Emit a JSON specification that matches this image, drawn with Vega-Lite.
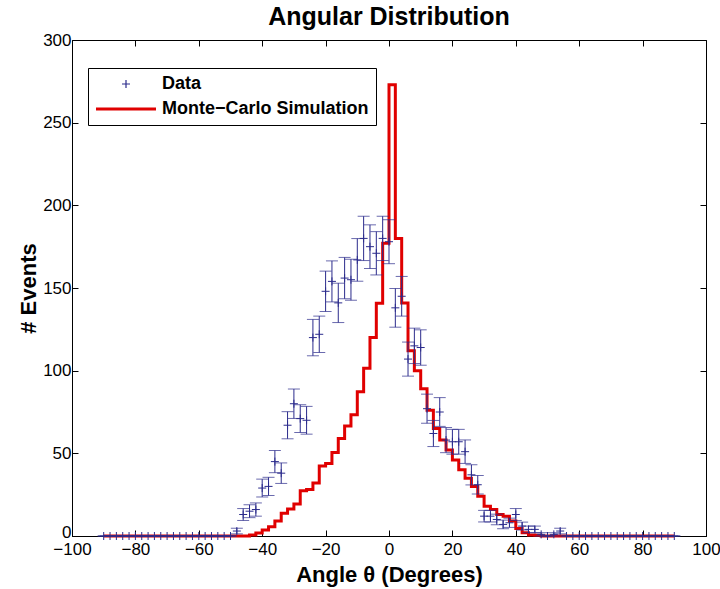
{
  "$schema": "https://vega.github.io/schema/vega-lite/v6.json",
  "width": 634,
  "height": 496,
  "autosize": "none",
  "padding": {"left": 72, "top": 40, "right": 14, "bottom": 53},
  "background": "white",
  "title": {"text": "Angular Distribution", "fontSize": 25, "font": "Liberation Sans", "fontWeight": "bold", "offset": 1, "color": "black"},
  "config": {
    "view": {"stroke": "black", "strokeWidth": 1},
    "axis": {"domainColor": "black", "tickColor": "black", "labelColor": "black", "titleColor": "black", "labelFont": "Liberation Sans", "labelFontSize": 17, "titleFont": "Liberation Sans", "titleFontSize": 22, "titleFontWeight": "bold", "grid": false, "tickSize": -6, "labelFlush": false}
  },
  "datasets": {
    "mc": [
      {"x": -90, "v": 0}, {"x": -88, "v": 0}, {"x": -86, "v": 0}, {"x": -84, "v": 0}, {"x": -82, "v": 0}, {"x": -80, "v": 0},
      {"x": -78, "v": 0}, {"x": -76, "v": 0}, {"x": -74, "v": 0}, {"x": -72, "v": 0}, {"x": -70, "v": 0}, {"x": -68, "v": 0},
      {"x": -66, "v": 0}, {"x": -64, "v": 0}, {"x": -62, "v": 0}, {"x": -60, "v": 0}, {"x": -58, "v": 0}, {"x": -56, "v": 0},
      {"x": -54, "v": 0}, {"x": -52, "v": 0}, {"x": -50, "v": 0}, {"x": -48, "v": 0}, {"x": -46, "v": 0}, {"x": -44, "v": 0.6},
      {"x": -42, "v": 1.8}, {"x": -40, "v": 3.6}, {"x": -38, "v": 5.6}, {"x": -36, "v": 9}, {"x": -34, "v": 13.7}, {"x": -32, "v": 16.3},
      {"x": -30, "v": 19.4}, {"x": -28, "v": 27.4}, {"x": -26, "v": 28.2}, {"x": -24, "v": 32}, {"x": -22, "v": 42.3}, {"x": -20, "v": 43.8},
      {"x": -18, "v": 50.5}, {"x": -16, "v": 59}, {"x": -14, "v": 66.5}, {"x": -12, "v": 73.3}, {"x": -10, "v": 87.3}, {"x": -8, "v": 101.4},
      {"x": -6, "v": 120}, {"x": -4, "v": 140.8}, {"x": -2, "v": 177}, {"x": 0, "v": 273}, {"x": 2, "v": 180}, {"x": 4, "v": 141},
      {"x": 6, "v": 112}, {"x": 8, "v": 100}, {"x": 10, "v": 89}, {"x": 12, "v": 76}, {"x": 14, "v": 65}, {"x": 16, "v": 58},
      {"x": 18, "v": 52}, {"x": 20, "v": 46}, {"x": 22, "v": 40}, {"x": 24, "v": 35}, {"x": 26, "v": 30}, {"x": 28, "v": 24},
      {"x": 30, "v": 18}, {"x": 32, "v": 16}, {"x": 34, "v": 13}, {"x": 36, "v": 12}, {"x": 38, "v": 9}, {"x": 40, "v": 4.6},
      {"x": 42, "v": 2}, {"x": 44, "v": 0.6}, {"x": 46, "v": 0.4}, {"x": 48, "v": 0}, {"x": 50, "v": 0}, {"x": 52, "v": 0},
      {"x": 54, "v": 0}, {"x": 56, "v": 0}, {"x": 58, "v": 0}, {"x": 60, "v": 0}, {"x": 62, "v": 0}, {"x": 64, "v": 0},
      {"x": 66, "v": 0}, {"x": 68, "v": 0}, {"x": 70, "v": 0}, {"x": 72, "v": 0}, {"x": 74, "v": 0}, {"x": 76, "v": 0},
      {"x": 78, "v": 0}, {"x": 80, "v": 0}, {"x": 82, "v": 0}, {"x": 84, "v": 0}, {"x": 86, "v": 0}, {"x": 88, "v": 0}, {"x": 90, "v": 0}
    ],
    "pts": [
      {"x": -90, "v": 0, "lo": 0, "hi": 0}, {"x": -88, "v": 0, "lo": 0, "hi": 0}, {"x": -86, "v": 0, "lo": 0, "hi": 0},
      {"x": -84, "v": 0, "lo": 0, "hi": 0}, {"x": -82, "v": 0, "lo": 0, "hi": 0}, {"x": -80, "v": 0, "lo": 0, "hi": 0},
      {"x": -78, "v": 0, "lo": 0, "hi": 0}, {"x": -76, "v": 0, "lo": 0, "hi": 0}, {"x": -74, "v": 0, "lo": 0, "hi": 0},
      {"x": -72, "v": 0, "lo": 0, "hi": 0}, {"x": -70, "v": 0, "lo": 0, "hi": 0}, {"x": -68, "v": 0, "lo": 0, "hi": 0},
      {"x": -66, "v": 0, "lo": 0, "hi": 0}, {"x": -64, "v": 0, "lo": 0, "hi": 0}, {"x": -62, "v": 0, "lo": 0, "hi": 0},
      {"x": -60, "v": 0, "lo": 0, "hi": 0}, {"x": -58, "v": 0, "lo": 0, "hi": 0}, {"x": -56, "v": 0, "lo": 0, "hi": 0},
      {"x": -54, "v": 0, "lo": 0, "hi": 0}, {"x": -52, "v": 0, "lo": 0, "hi": 0}, {"x": -50, "v": 0, "lo": 0, "hi": 0},
      {"x": -48, "v": 3, "lo": 1.3, "hi": 4.7}, {"x": -46, "v": 13, "lo": 9.4, "hi": 16.6}, {"x": -44, "v": 15, "lo": 11.1, "hi": 18.9},
      {"x": -42, "v": 16, "lo": 12, "hi": 20}, {"x": -40, "v": 29, "lo": 23.6, "hi": 34.4}, {"x": -38, "v": 30, "lo": 24.5, "hi": 35.5},
      {"x": -36, "v": 45, "lo": 38.3, "hi": 51.7}, {"x": -34, "v": 38, "lo": 31.8, "hi": 44.2}, {"x": -32, "v": 67, "lo": 58.8, "hi": 75.2},
      {"x": -30, "v": 80, "lo": 71.1, "hi": 88.9}, {"x": -28, "v": 71, "lo": 62.6, "hi": 79.4}, {"x": -26, "v": 70, "lo": 61.6, "hi": 78.4},
      {"x": -24, "v": 120, "lo": 109, "hi": 131}, {"x": -22, "v": 122, "lo": 111, "hi": 133}, {"x": -20, "v": 148, "lo": 135.8, "hi": 160.2},
      {"x": -18, "v": 154, "lo": 141.6, "hi": 166.4}, {"x": -16, "v": 141, "lo": 129.1, "hi": 152.9}, {"x": -14, "v": 156, "lo": 143.5, "hi": 168.5},
      {"x": -12, "v": 155, "lo": 142.6, "hi": 167.4}, {"x": -10, "v": 167, "lo": 154.1, "hi": 179.9}, {"x": -8, "v": 180, "lo": 166.6, "hi": 193.4},
      {"x": -6, "v": 175, "lo": 161.8, "hi": 188.2}, {"x": -4, "v": 171, "lo": 157.9, "hi": 184.1}, {"x": -2, "v": 180, "lo": 166.6, "hi": 193.4},
      {"x": 0, "v": 178, "lo": 164.7, "hi": 191.3}, {"x": 2, "v": 138, "lo": 126.3, "hi": 149.7}, {"x": 4, "v": 145, "lo": 133, "hi": 157},
      {"x": 6, "v": 107, "lo": 96.7, "hi": 117.3}, {"x": 8, "v": 115, "lo": 104.3, "hi": 125.7}, {"x": 10, "v": 114, "lo": 103.3, "hi": 124.7},
      {"x": 12, "v": 77, "lo": 68.2, "hi": 85.8}, {"x": 14, "v": 62, "lo": 54.1, "hi": 69.9}, {"x": 16, "v": 75, "lo": 66.3, "hi": 83.7},
      {"x": 18, "v": 58, "lo": 50.4, "hi": 65.6}, {"x": 20, "v": 57, "lo": 49.5, "hi": 64.5}, {"x": 22, "v": 57, "lo": 49.5, "hi": 64.5},
      {"x": 24, "v": 51, "lo": 43.9, "hi": 58.1}, {"x": 26, "v": 37, "lo": 30.9, "hi": 43.1}, {"x": 28, "v": 31, "lo": 25.4, "hi": 36.6},
      {"x": 30, "v": 12, "lo": 8.5, "hi": 15.5}, {"x": 32, "v": 12, "lo": 8.5, "hi": 15.5}, {"x": 34, "v": 10, "lo": 6.8, "hi": 13.2},
      {"x": 36, "v": 7, "lo": 4.4, "hi": 9.6}, {"x": 38, "v": 8, "lo": 5.2, "hi": 10.8}, {"x": 40, "v": 13, "lo": 9.4, "hi": 16.6},
      {"x": 42, "v": 6, "lo": 3.6, "hi": 8.4}, {"x": 44, "v": 4, "lo": 2, "hi": 6}, {"x": 46, "v": 4, "lo": 2, "hi": 6},
      {"x": 48, "v": 1, "lo": 0, "hi": 2}, {"x": 50, "v": 0, "lo": 0, "hi": 0}, {"x": 52, "v": 1, "lo": 0, "hi": 2},
      {"x": 54, "v": 3, "lo": 1.3, "hi": 4.7}, {"x": 56, "v": 0, "lo": 0, "hi": 0}, {"x": 58, "v": 0, "lo": 0, "hi": 0},
      {"x": 60, "v": 0, "lo": 0, "hi": 0}, {"x": 62, "v": 0, "lo": 0, "hi": 0}, {"x": 64, "v": 0, "lo": 0, "hi": 0},
      {"x": 66, "v": 0, "lo": 0, "hi": 0}, {"x": 68, "v": 0, "lo": 0, "hi": 0}, {"x": 70, "v": 0, "lo": 0, "hi": 0},
      {"x": 72, "v": 0, "lo": 0, "hi": 0}, {"x": 74, "v": 0, "lo": 0, "hi": 0}, {"x": 76, "v": 0, "lo": 0, "hi": 0},
      {"x": 78, "v": 0, "lo": 0, "hi": 0}, {"x": 80, "v": 0, "lo": 0, "hi": 0}, {"x": 82, "v": 0, "lo": 0, "hi": 0},
      {"x": 84, "v": 0, "lo": 0, "hi": 0}, {"x": 86, "v": 0, "lo": 0, "hi": 0}, {"x": 88, "v": 0, "lo": 0, "hi": 0},
      {"x": 90, "v": 0, "lo": 0, "hi": 0}
    ]
  },
  "layer": [
    {
      "data": {"name": "mc"},
      "mark": {"type": "line", "interpolate": "step-after", "strokeWidth": 3},
      "encoding": {
        "x": {"field": "x", "type": "quantitative", "scale": {"domain": [-100, 100], "nice": false},
              "axis": {"orient": "bottom", "values": [-100, -80, -60, -40, -20, 0, 20, 40, 60, 80, 100], "title": "Angle θ (Degrees)", "labelPadding": 11, "titlePadding": 7, "tickSize": -6, "labelFlush": false}},
        "y": {"field": "v", "type": "quantitative", "scale": {"domain": [0, 300], "nice": false},
              "axis": {"orient": "left", "values": [0, 50, 100, 150, 200, 250, 300], "title": "# Events", "labelPadding": 7, "titlePadding": 2, "tickSize": -6,
                       "labelOffset": {"condition": {"test": "datum.value === 0", "value": -4}, "value": 0}}},
        "color": {"datum": "Monte−Carlo Simulation", "type": "nominal",
                  "scale": {"domain": ["Data", "Monte−Carlo Simulation"], "range": ["#2b2b8c", "#e00000"]},
                  "legend": {"orient": "none", "legendX": 16, "legendY": 28, "title": null, "fillColor": "white", "strokeColor": "black",
                             "padding": 7, "labelFont": "Liberation Sans", "labelFontSize": 18, "labelFontWeight": "bold", "labelColor": "black", "labelLimit": 400,
                             "symbolOffset": 22, "labelOffset": 27, "rowPadding": 7, "symbolSize": 100,
                             "encode": {"symbols": {"update": {
                               "shape": {"signal": "datum.value === 'Data' ? 'M-0.8,0L0.8,0M0,-0.8L0,0.8' : 'M-6,0L6,0'"},
                               "strokeWidth": {"signal": "datum.value === 'Data' ? 1.2 : 3"},
                               "stroke": {"signal": "datum.value === 'Data' ? '#2b2b8c' : '#e00000'"},
                               "fill": {"value": "transparent"},
                               "size": {"value": 100}}}}}}
      }
    },
    {
      "data": {"name": "pts"},
      "mark": {"type": "rule", "color": "#2b2b8c", "strokeWidth": 1},
      "encoding": {
        "x": {"field": "x", "type": "quantitative", "axis": null},
        "y": {"field": "lo", "type": "quantitative", "axis": null},
        "y2": {"field": "hi"}
      }
    },
    {
      "data": {"name": "pts"},
      "mark": {"type": "tick", "orient": "horizontal", "color": "#2b2b8c", "size": 12, "thickness": 1},
      "encoding": {
        "x": {"field": "x", "type": "quantitative", "axis": null},
        "y": {"field": "lo", "type": "quantitative", "axis": null}
      }
    },
    {
      "data": {"name": "pts"},
      "mark": {"type": "tick", "orient": "horizontal", "color": "#2b2b8c", "size": 12, "thickness": 1},
      "encoding": {
        "x": {"field": "x", "type": "quantitative", "axis": null},
        "y": {"field": "hi", "type": "quantitative", "axis": null}
      }
    },
    {
      "data": {"name": "pts"},
      "mark": {"type": "point", "shape": "M-1,0L1,0M0,-1L0,1", "size": 64, "filled": false, "strokeWidth": 1, "opacity": 1},
      "encoding": {
        "x": {"field": "x", "type": "quantitative",
              "axis": {"orient": "top", "values": [-100, -80, -60, -40, -20, 0, 20, 40, 60, 80, 100], "labels": false, "title": null, "domain": false, "tickSize": -6}},
        "y": {"field": "v", "type": "quantitative",
              "axis": {"orient": "right", "values": [0, 50, 100, 150, 200, 250, 300], "labels": false, "title": null, "domain": false, "tickSize": -6}},
        "color": {"datum": "Data", "type": "nominal"}
      }
    }
  ],
  "resolve": {"axis": {"x": "independent", "y": "independent"}}
}
